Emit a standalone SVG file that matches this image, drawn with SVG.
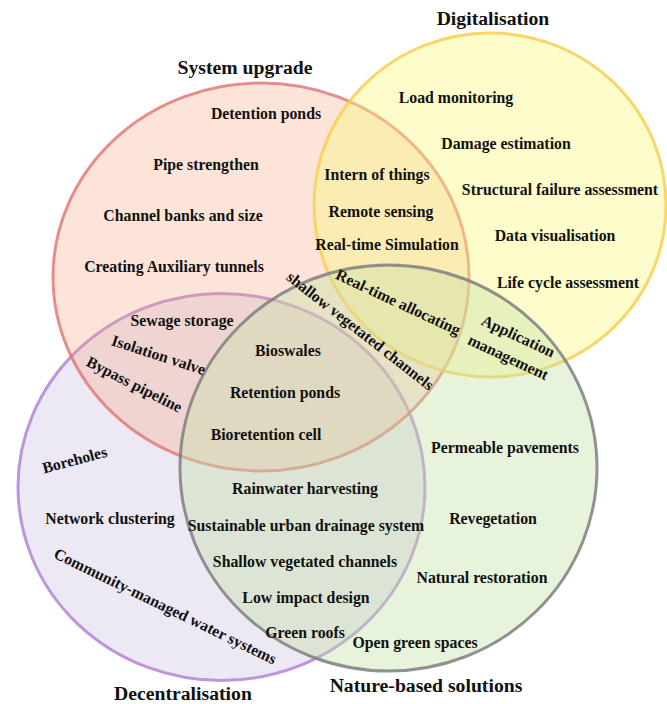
<svg xmlns="http://www.w3.org/2000/svg" width="667" height="704" viewBox="0 0 667 704">
<style>
text{font-family:"Liberation Serif","Times New Roman",serif;font-weight:bold;fill:#111;}
.t{font-size:19.7px;text-anchor:middle;}
.i{font-size:15.8px;text-anchor:middle;}
.c{stroke-width:3;}
</style>
<rect width="667" height="704" fill="#ffffff"/>
<g id="decentralisation">
<ellipse class="c" cx="221.5" cy="487" rx="203.5" ry="193.5" fill="#d0c6e4" fill-opacity="0.4" stroke="#b584d6" stroke-opacity="0.85"/>
</g>
<g id="system-upgrade">
<ellipse class="c" cx="261" cy="277" rx="208" ry="194" fill="#f4a582" fill-opacity="0.3" stroke="#e07474" stroke-opacity="0.8"/>
</g>
<g id="digitalisation">
<ellipse class="c" cx="490" cy="205" rx="176" ry="172" fill="#faf77d" fill-opacity="0.4" stroke="#f9cf52" stroke-opacity="0.85"/>
</g>
<g id="nature-based">
<ellipse class="c" cx="388.5" cy="468" rx="208.5" ry="203" fill="#c5e1a8" fill-opacity="0.4" stroke="#7f7f7f" stroke-opacity="0.85"/>
</g>
<g id="titles">
<text class="t" x="493" y="25">Digitalisation</text>
<text class="t" x="245" y="74">System upgrade</text>
<text class="t" x="183" y="700">Decentralisation</text>
<text class="t" x="426" y="692">Nature-based solutions</text>
</g>
<g id="system-upgrade-items">
<text class="i" x="266" y="119">Detention ponds</text>
<text class="i" x="206" y="170">Pipe strengthen</text>
<text class="i" x="183" y="221">Channel banks and size</text>
<text class="i" x="174" y="272">Creating Auxiliary tunnels</text>
</g>
<g id="upgrade-digital-items">
<text class="i" x="377" y="180">Intern of things</text>
<text class="i" x="381" y="217">Remote sensing</text>
<text class="i" x="387" y="250">Real-time Simulation</text>
</g>
<g id="digitalisation-items">
<text class="i" x="456" y="103">Load monitoring</text>
<text class="i" x="506" y="149">Damage estimation</text>
<text class="i" x="560" y="195">Structural failure assessment</text>
<text class="i" x="555" y="241">Data visualisation</text>
<text class="i" x="568" y="288">Life cycle assessment</text>
</g>
<g id="rotated-items">
<text class="i" transform="translate(396,307) rotate(25)">Real-time allocating</text>
<text class="i" transform="translate(516,341) rotate(25)">Application</text>
<text class="i" transform="translate(506,362) rotate(25)">management</text>
<text class="i" transform="translate(357,335) rotate(38)">shallow vegetated channels</text>
</g>
<g id="upgrade-decentral-items">
<text class="i" x="182" y="326">Sewage storage</text>
<text class="i" transform="translate(157,360) rotate(18)">Isolation valve</text>
<text class="i" transform="translate(132,389) rotate(27)">Bypass pipeline</text>
</g>
<g id="core-items">
<text class="i" x="288" y="356">Bioswales</text>
<text class="i" x="285" y="398">Retention ponds</text>
<text class="i" x="266" y="440">Bioretention cell</text>
</g>
<g id="decentralisation-items">
<text class="i" transform="translate(76,465) rotate(-15)">Boreholes</text>
<text class="i" x="110" y="524">Network clustering</text>
<text class="i" transform="translate(163,611) rotate(26)">Community-managed water systems</text>
</g>
<g id="decentral-nature-items">
<text class="i" x="305" y="494">Rainwater harvesting</text>
<text class="i" x="306" y="531">Sustainable urban drainage system</text>
<text class="i" x="305" y="567">Shallow vegetated channels</text>
<text class="i" x="306" y="603">Low impact design</text>
<text class="i" x="305" y="638">Green roofs</text>
</g>
<g id="nature-items">
<text class="i" x="505" y="453">Permeable pavements</text>
<text class="i" x="493" y="524">Revegetation</text>
<text class="i" x="482" y="583">Natural restoration</text>
<text class="i" x="415" y="648">Open green spaces</text>
</g>
</svg>
